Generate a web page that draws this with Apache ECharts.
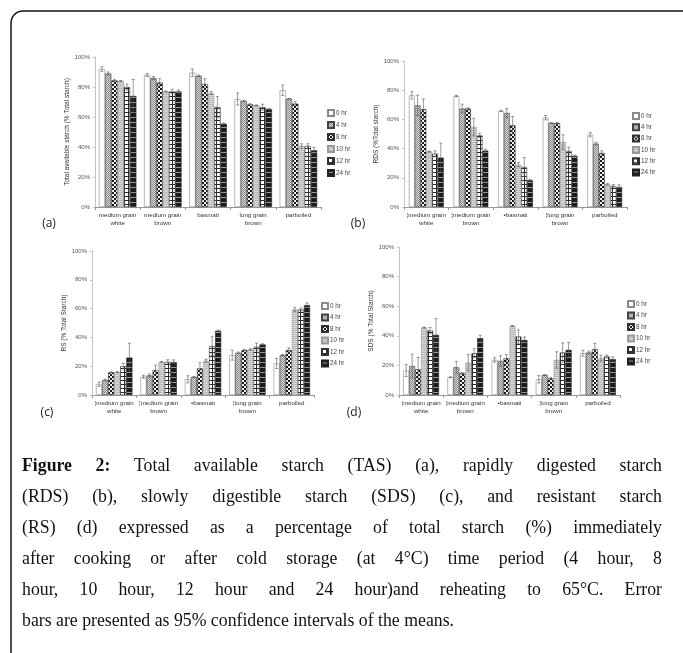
<!DOCTYPE html>
<html><head><meta charset="utf-8">
<script src="https://cdn.jsdelivr.net/npm/echarts/dist/echarts.min.js"></script>
<style>html,body{margin:0;padding:0;background:#fff}#c{width:683px;height:653px}</style>
</head><body><div id="c"></div>
<script>
// ---------------- DATA ----------------
const hours = ['0 hr', '4 hr', '8 hr', '10 hr', '12 hr', '24 hr'];
const catsA = ['medium grain\nwhite', 'medium grain\nbrown', 'basmati', 'long grain\nbrown', 'parboiled'];
const catsB = ['¦medium grain\nwhite', '¦medium grain\nbrown', '•basmati', '¦long grain\nbrown', 'parboiled'];
const yTicks = [0, 20, 40, 60, 80, 100];

// rows = hours, columns = categories
const tasValues = [
  [92.0, 88.0, 89.5, 72.0, 77.8],
  [89.0, 86.0, 87.5, 70.7, 72.2],
  [84.4, 83.0, 82.0, 68.4, 68.9],
  [84.0, 77.0, 76.0, 67.8, 40.6],
  [80.0, 77.0, 66.7, 66.5, 40.7],
  [74.0, 77.0, 55.5, 65.3, 37.8]
];
const tasErrors = [
  [1.5, 1.0, 2.5, 4.0, 3.5],
  [1.0, 1.0, 0.5, 0.5, 0.3],
  [0.5, 2.5, 3.5, 0.5, 1.5],
  [0.3, 0.3, 1.0, 0.3, 1.5],
  [2.0, 1.5, 7.0, 2.0, 1.5],
  [11.0, 1.0, 0.5, 0.5, 2.0]
];
const rdsValues = [
  [76.5, 76.0, 65.8, 61.2, 49.5],
  [69.6, 67.4, 64.4, 57.5, 43.4],
  [67.0, 67.4, 56.0, 57.5, 37.0],
  [38.0, 54.8, 29.0, 44.5, 15.5],
  [36.5, 49.0, 27.4, 38.4, 14.4],
  [33.8, 38.6, 18.3, 35.0, 13.7]
];
const rdsErrors = [
  [2.5, 0.5, 0.5, 1.5, 1.5],
  [7.0, 3.0, 3.0, 0.3, 1.0],
  [7.0, 0.5, 6.0, 0.3, 1.5],
  [0.3, 6.0, 1.5, 5.0, 0.5],
  [2.0, 1.5, 6.5, 2.5, 1.0],
  [10.0, 1.0, 0.5, 0.5, 1.5]
];
const rsValues = [
  [7.4, 12.7, 10.9, 27.7, 21.9],
  [10.4, 13.6, 12.5, 29.3, 27.7],
  [15.7, 17.3, 18.5, 31.2, 31.2],
  [15.9, 23.0, 23.8, 31.6, 59.4],
  [20.0, 23.0, 33.9, 33.5, 59.4],
  [26.0, 22.9, 44.6, 35.1, 62.4]
];
const rsErrors = [
  [1.5, 1.0, 2.5, 3.5, 3.5],
  [0.5, 1.0, 0.3, 0.5, 0.5],
  [0.3, 3.5, 4.0, 0.5, 1.5],
  [0.3, 0.3, 1.0, 0.5, 1.5],
  [2.0, 1.5, 6.5, 2.5, 1.0],
  [10.0, 1.5, 0.5, 0.5, 1.5]
];
const sdsValues = [
  [16.5, 12.0, 23.7, 10.6, 28.2],
  [19.6, 18.7, 23.0, 13.5, 28.7],
  [17.4, 14.7, 24.8, 11.3, 30.9],
  [45.6, 21.9, 46.7, 23.7, 24.8],
  [43.6, 28.2, 39.5, 28.7, 26.0],
  [40.6, 38.4, 37.2, 30.5, 24.2]
];
const sdsErrors = [
  [4.0, 0.3, 1.5, 2.5, 2.0],
  [8.0, 4.0, 3.5, 0.3, 1.0],
  [8.0, 0.5, 2.5, 0.5, 4.0],
  [0.3, 5.5, 0.3, 5.5, 2.0],
  [2.0, 3.0, 4.5, 6.5, 1.0],
  [11.0, 2.0, 2.0, 5.0, 1.5]
];
const captionLines = [
  'Figure 2: Total available starch (TAS) (a), rapidly digested starch',
  '(RDS) (b), slowly digestible starch (SDS) (c), and resistant starch',
  '(RS) (d) expressed as a percentage of total starch (%) immediately',
  'after cooking or after cold storage (at 4°C) time period (4 hour, 8',
  'hour, 10 hour, 12 hour and 24 hour)and reheating to 65°C. Error',
  'bars are presented as 95% confidence intervals of the means.'
];

// ---------------- PATTERNS ----------------
function pat(w, h, draw) {
  const c = document.createElement('canvas'); c.width = w; c.height = h;
  const g = c.getContext('2d'); draw(g); return { image: c, repeat: 'repeat' };
}
const patterns = [
  '#ffffff',
  pat(2, 2, g => { g.fillStyle = '#d6d6d6'; g.fillRect(0,0,2,2); g.fillStyle = '#8c8c8c'; g.fillRect(0,0,1,1); g.fillRect(1,1,1,1); }),
  pat(4, 4, g => { g.fillStyle = '#f4f4f4'; g.fillRect(0,0,4,4); g.fillStyle = '#1a1a1a'; g.fillRect(0,0,2,2); g.fillRect(2,2,2,2); }),
  pat(2, 2, g => { g.fillStyle = '#d8d8d8'; g.fillRect(0,0,2,2); g.fillStyle = '#bababa'; g.fillRect(0,0,2,1); }),
  pat(4, 4, g => { g.fillStyle = '#ffffff'; g.fillRect(0,0,4,4); g.fillStyle = '#2a2a2a'; g.fillRect(0,0,4,1); g.fillRect(0,0,1,4); }),
  pat(6, 5, g => { g.fillStyle = '#1c1c1c'; g.fillRect(0,0,6,5); g.fillStyle = '#9a9a9a'; g.fillRect(0,2,6,1); })
];
const borders = ['#8a8a8a', '#444', '#333', '#999', '#333', '#222'];

// ---------------- PANELS ----------------
const panels = [
  { vals: tasValues, errs: tasErrors, cats: catsA, name: 'Total available starch (% Total starch)',
    grid: { left: 95, top: 57, width: 226, height: 150 }, gap: 0.17, nameGap: 17,
    legend: { left: 327, top: 109, itemGap: 4 }, tag: '(a)', tagPos: [49, 224] },
  { vals: rdsValues, errs: rdsErrors, cats: catsB, name: 'RDS (%Total starch)',
    grid: { left: 404, top: 61, width: 223, height: 146 }, gap: 0.22, nameGap: 18,
    legend: { left: 632, top: 112, itemGap: 3.3 }, tag: '(b)', tagPos: [358, 224] },
  { vals: rsValues, errs: rsErrors, cats: catsB, name: 'RS (% Total Starch)',
    grid: { left: 92, top: 251, width: 222, height: 144 }, gap: 0.18, nameGap: 16,
    legend: { left: 321, top: 302, itemGap: 3.5 }, tag: '(c)', tagPos: [47, 413] },
  { vals: sdsValues, errs: sdsErrors, cats: catsB, name: 'SDS (% Total Starch)',
    grid: { left: 399, top: 247, width: 221, height: 148 }, gap: 0.19, nameGap: 12,
    legend: { left: 627, top: 300, itemGap: 3.5 }, tag: '(d)', tagPos: [354, 413] }
];

const grids = [], xAxes = [], yAxes = [], series = [], legends = [], graphics = [];

function errRender(s, gapFrac) {
  return function (params, api) {
    const ci = api.value(0), v = api.value(1), e = api.value(2);
    const top = api.coord([ci, v + e]);
    const bot = api.coord([ci, Math.max(0, v - e)]);
    const band = api.size([1, 0])[0];
    const bw = band * (1 - gapFrac) / 6;
    const x = top[0] + (s - 2.5) * bw;
    const cap = 1.5;
    const st = { stroke: '#555', lineWidth: 0.6 };
    return { type: 'group', children: [
      { type: 'line', shape: { x1: x, y1: top[1], x2: x, y2: bot[1] }, style: st },
      { type: 'line', shape: { x1: x - cap, y1: top[1], x2: x + cap, y2: top[1] }, style: st },
      { type: 'line', shape: { x1: x - cap, y1: bot[1], x2: x + cap, y2: bot[1] }, style: st }
    ] };
  };
}

panels.forEach((p, k) => {
  grids.push(p.grid);
  xAxes.push({
    type: 'category', gridIndex: k, data: p.cats,
    axisLine: { lineStyle: { color: '#9a9a9a', width: 1 } },
    axisTick: { show: true, length: 3, lineStyle: { color: '#9a9a9a' } },
    axisLabel: { interval: 0, fontSize: 6.2, lineHeight: 8, color: '#333', margin: 4, fontFamily: 'Liberation Sans' }
  });
  yAxes.push({
    type: 'value', gridIndex: k, min: yTicks[0], max: yTicks[yTicks.length - 1], interval: yTicks[1] - yTicks[0],
    name: p.name, nameLocation: 'middle', nameGap: p.nameGap,
    nameTextStyle: { fontSize: 6.5, color: '#333', fontFamily: 'Liberation Sans' },
    axisLine: { show: true, lineStyle: { color: '#c4c4c4' } },
    axisTick: { show: true, length: 2, lineStyle: { color: '#c4c4c4' } },
    splitLine: { show: false },
    axisLabel: { formatter: '{value}%', fontSize: 6, color: '#555', margin: 5, fontFamily: 'Liberation Sans' }
  });
  hours.forEach((h, s) => {
    series.push({
      type: 'bar', name: h, xAxisIndex: k, yAxisIndex: k,
      data: p.vals[s], barGap: '0%', barCategoryGap: (p.gap * 100) + '%',
      itemStyle: { color: patterns[s], borderColor: borders[s], borderWidth: 0.6 },
      emphasis: { disabled: true }, animation: false
    });
  });
  hours.forEach((h, s) => {
    series.push({
      type: 'custom', name: 'err' + k + '_' + s, xAxisIndex: k, yAxisIndex: k,
      data: p.cats.map((c, i) => [i, p.vals[s][i], p.errs[s][i]]),
      encode: { x: 0, y: 1 }, renderItem: errRender(s, p.gap), z: 5, animation: false, silent: true
    });
  });
  legends.push({
    data: hours, orient: 'vertical', left: p.legend.left, top: p.legend.top,
    itemWidth: 6, itemHeight: 6, itemGap: p.legend.itemGap, icon: 'rect', padding: 0,
    textStyle: { fontSize: 6.3, color: '#444', padding: [0, 0, 0, -3], fontFamily: 'Liberation Sans' },
    selectedMode: false
  });
  graphics.push({ type: 'text', x: p.tagPos[0], y: p.tagPos[1],
    style: { text: p.tag, font: '12px "Open Sans"', fill: '#222', textAlign: 'center', textVerticalAlign: 'middle' } });
});

// frame
graphics.push({ type: 'rect', shape: { x: 11, y: 11, width: 720, height: 720, r: 12 },
  style: { fill: 'none', stroke: '#111', lineWidth: 1.5 }, z: -1 });

// caption (justified, condensed serif)
const mctx = document.createElement('canvas').getContext('2d');
function fnt(fs, bold) { return (bold ? 'bold ' : '') + fs + 'px "Liberation Serif"'; }
function mw(t, fs, bold) { mctx.font = fnt(fs, bold); return mctx.measureText(t).width; }
const capLeft = 22, capRight = 662, capTop = 466, capStep = 31;
const fs = 19;
const sx = Math.min(1, 432 / mw(captionLines[5], fs, false));
captionLines.forEach((line, li) => {
  const words = line.split(' ');
  const y = capTop + li * capStep;
  const boldFlags = words.map((w, wi) => li === 0 && wi < 2);
  const widths = words.map((w, wi) => mw(w, fs, boldFlags[wi]) * sx);
  const total = widths.reduce((a, b) => a + b, 0);
  const justify = li < captionLines.length - 1;
  const space = justify ? (capRight - capLeft - total) / (words.length - 1) : mw(' ', fs, false) * sx;
  let x = capLeft;
  words.forEach((w, wi) => {
    graphics.push({ type: 'text', x: x, y: y, scaleX: sx, scaleY: 1,
      style: { text: w, font: fnt(fs, boldFlags[wi]), fill: '#111', textVerticalAlign: 'middle' } });
    x += widths[wi] + space;
  });
});

const chart = echarts.init(document.getElementById('c'), null, { renderer: 'canvas' });
chart.setOption({
  animation: false,
  backgroundColor: '#fff',
  grid: grids, xAxis: xAxes, yAxis: yAxes, series: series, legend: legends, graphic: graphics
});
</script>
</body></html>
